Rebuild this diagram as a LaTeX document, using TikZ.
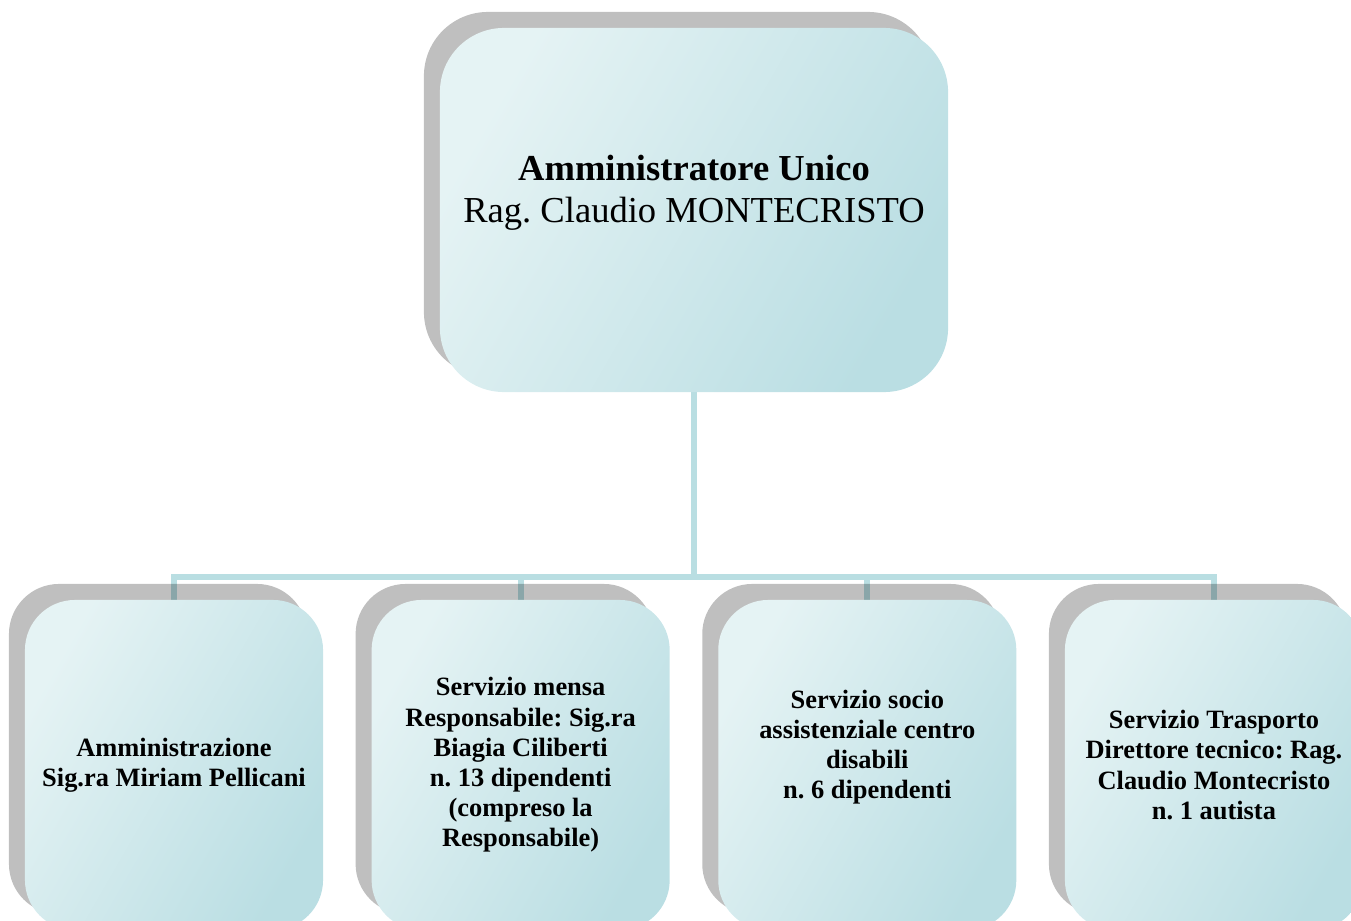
\documentclass[tikz,border=0pt]{standalone}
\usepackage{fontspec}
\setmainfont{Liberation Serif}
\frenchspacing
\usetikzlibrary{positioning,backgrounds}
\definecolor{boxlight}{RGB}{229,243,244}
\definecolor{boxdark}{RGB}{186,222,227}
\definecolor{linkcol}{RGB}{185,222,226}
\tikzset{
node distance=1.2cm,
box/.style={rectangle,rounded corners=1.25cm,align=center,
  top color=boxlight,bottom color=boxdark,shading angle=60,
  preaction={fill=black,fill opacity=.25,transform canvas={xshift=-0.4cm,yshift=0.4cm}}},
head/.style={box,minimum width=12.7cm,minimum height=9.1cm,rounded corners=1.6cm,
  font=\fontsize{26}{30}\selectfont},
unit/.style={box,minimum width=7.45cm,minimum height=8.25cm,
  font=\bfseries\fontsize{18.8}{21.5}\selectfont},
link/.style={draw=linkcol,line width=0.15cm}
}

\begin{document}
\begin{tikzpicture}[x=0.025cm,y=-0.025cm]
\useasboundingbox (0,0) rectangle (1351,921);

\node[head] (amm) at (694,210) {{\bfseries Amministratore Unico}\\Rag. Claudio MONTECRISTO\\~};

\node[unit] (ammin) at (174,765)    {Amministrazione\\Sig.ra Miriam Pellicani};
\node[unit] (mensa) [right=of ammin] {Servizio mensa\\Responsabile: Sig.ra\\Biagia Ciliberti\\n. 13 dipendenti\\(compreso la\\Responsabile)};
\node[unit] (socio) [right=of mensa] {Servizio socio\\assistenziale centro\\disabili\\n. 6 dipendenti\\[8pt]~};
\node[unit] (trasp) [right=of socio] {Servizio Trasporto\\Direttore tecnico: Rag.\\Claudio Montecristo\\n. 1 autista};

\coordinate (bus) at (694,577);
\begin{scope}[on background layer]
\draw[link] (amm.south) -- (bus);
\foreach \n in {ammin,mensa,socio,trasp}
  \draw[link] (bus) -| (\n.north);
\end{scope}
\end{tikzpicture}
\end{document}
